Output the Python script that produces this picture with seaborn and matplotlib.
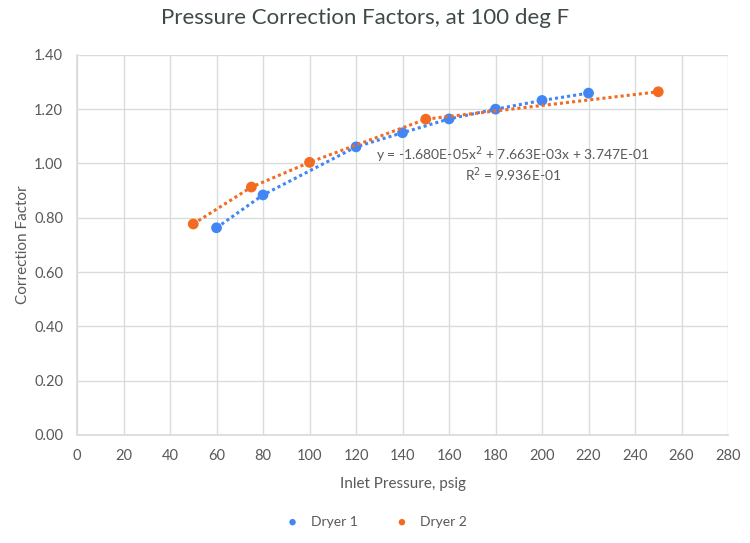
import pandas as pd
import matplotlib
matplotlib.use('Agg')
import matplotlib.pyplot as plt
import seaborn as sns

# data
dryer1_psig = [60, 80, 120, 140, 160, 180, 200, 220]
dryer1_factor = [0.763, 0.884, 1.061, 1.113, 1.164, 1.200, 1.232, 1.259]
dryer2_psig = [50, 75, 100, 150, 250]
dryer2_factor = [0.777, 0.913, 1.004, 1.163, 1.264]

x_ticks = list(range(0, 281, 20))
y_ticks = [0.0, 0.2, 0.4, 0.6, 0.8, 1.0, 1.2, 1.4]

blue = '#4285F4'
orange = '#F26B21'
text_grey = '#595959'

sns.set_theme(style='white')
plt.rcParams['font.family'] = ['Lato', 'DejaVu Sans']

df1 = pd.DataFrame({'psig': dryer1_psig, 'factor': dryer1_factor})
df2 = pd.DataFrame({'psig': dryer2_psig, 'factor': dryer2_factor})

fig = plt.figure(figsize=(7.5, 5.43), dpi=100)
ax = fig.add_axes([0.1027, 0.199, 0.868, 0.7])

sns.lineplot(data=df1, x='psig', y='factor', ax=ax, color=blue,
             linestyle=(0, (1, 1)), linewidth=2.2, legend=False)
sns.scatterplot(data=df1, x='psig', y='factor', ax=ax, color=blue,
                s=60, edgecolor='none', label='Dryer 1')
sns.lineplot(data=df2, x='psig', y='factor', ax=ax, color=orange,
             linestyle=(0, (1, 1)), linewidth=2.2, legend=False)
sns.scatterplot(data=df2, x='psig', y='factor', ax=ax, color=orange,
                s=60, edgecolor='none', label='Dryer 2')

ax.set_xlim(0, 280)
ax.set_ylim(0, 1.4)
ax.set_xticks(x_ticks)
ax.set_yticks(y_ticks)
ax.set_yticklabels([f'{v:.2f}' for v in y_ticks])
ax.grid(True, color='#D9DCDC', linewidth=1)
ax.set_axisbelow(True)
for side in ['top', 'right']:
    ax.spines[side].set_visible(False)
for side in ['left', 'bottom']:
    ax.spines[side].set_color('#D9DCDC')
ax.tick_params(colors=text_grey, labelsize=10.5, length=0, pad=10)

ax.set_xlabel('Inlet Pressure, psig', fontsize=11, color=text_grey, labelpad=10)
ax.set_ylabel('Correction Factor', fontsize=11, color=text_grey, labelpad=3)

# trendline label as shown in the chart
ax.text(187.5, 1.032, 'y = -1.680E-05x$^2$ + 7.663E-03x + 3.747E-01',
        ha='center', va='center', fontsize=10, color=text_grey)
ax.text(187.5, 0.958, 'R$^2$ = 9.936E-01',
        ha='center', va='center', fontsize=10, color=text_grey)

fig.suptitle('Pressure Correction Factors, at 100 deg F', x=0.487, y=0.985,
             fontsize=16, color='#3E4A4A')

handles, labels = ax.get_legend_handles_labels()
ax.get_legend().remove()
fig.legend(handles, labels, loc='center', bbox_to_anchor=(0.497, 0.039), ncol=2,
           frameon=False, fontsize=10, labelcolor=text_grey, handletextpad=0.3,
           columnspacing=2.2, markerscale=0.6)

fig.savefig('out.png', dpi=100)
